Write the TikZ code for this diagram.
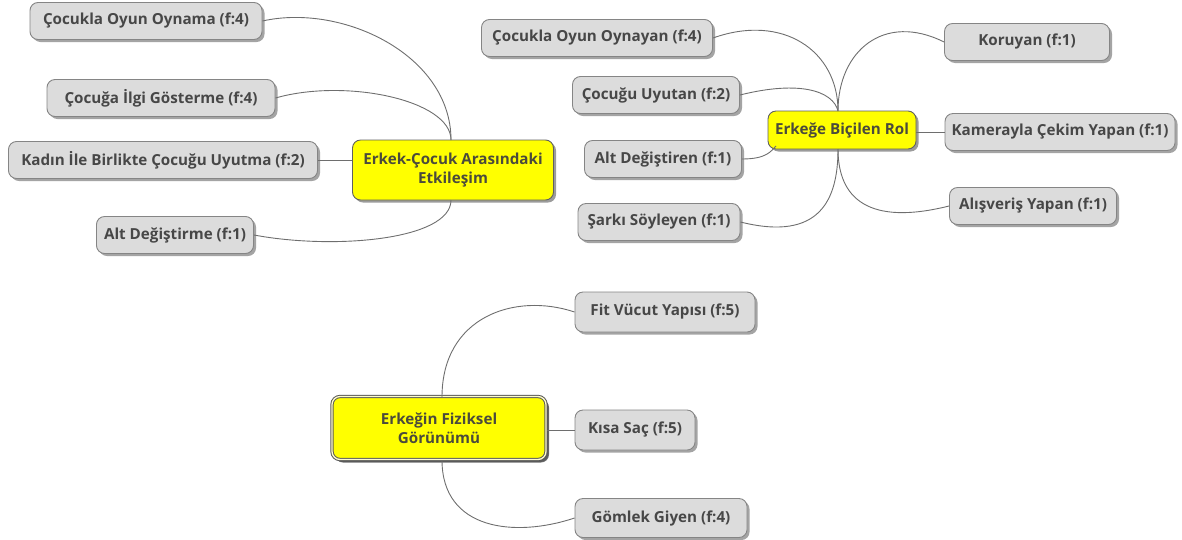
\documentclass[tikz,border=0pt]{standalone}
\usepackage{fontspec}
\setmainfont{Open Sans}
\usetikzlibrary{shadows,calc}
\definecolor{leaffill}{HTML}{DCDCDC}
\definecolor{leafdraw}{HTML}{858585}
\definecolor{txt}{HTML}{474747}
\definecolor{hubtxt}{HTML}{4A4A3C}
\definecolor{wire}{HTML}{6E6E6E}
\definecolor{hub}{HTML}{FFFF00}
\tikzset{
  box/.style={rounded corners=8pt, minimum height=37pt, inner sep=0pt, align=center,
    font=\fontsize{15.2}{19}\selectfont\bfseries, text=txt, line width=0.9pt},
  leaf/.style={box, fill=leaffill, draw=leafdraw,
    drop shadow={shadow xshift=2.5pt, shadow yshift=-2.5pt, fill=gray!70!black, opacity=0.55}},
  hubbox/.style={box, fill=hub, draw=gray!75!black, text=hubtxt,
    drop shadow={shadow xshift=2.5pt, shadow yshift=-2.5pt, fill=gray!70!black, opacity=0.6}},
  wirestyle/.style={draw=wire, line width=0.9pt},
}
\begin{document}
\begin{tikzpicture}[x=1pt,y=-1pt]
\useasboundingbox (0,0) rectangle (1182,539);

% left cluster
\node[hubbox, minimum width=201pt, minimum height=60pt] (e1) at (453,170) {Erkek-Çocuk Arasındaki\\Etkileşim};
\node[leaf, minimum width=232pt] (c1) at (146,21) {Çocukla Oyun Oynama (f:4)};
\node[leaf, minimum width=228pt] (c2) at (161,98) {Çocuğa İlgi Gösterme (f:4)};
\node[leaf, minimum width=309pt] (c3) at (163,160) {Kadın İle Birlikte Çocuğu Uyutma (f:2)};
\node[leaf, minimum width=157pt] (c4) at (175,235) {Alt Değiştirme (f:1)};
\coordinate (e1t) at (451,140);
\coordinate (e1b) at (451,200);

% right cluster
\node[hubbox, minimum width=148pt, minimum height=38pt] (e2) at (842,130) {Erkeğe Biçilen Rol};
\node[leaf, minimum width=231pt] (r1) at (597,38) {Çocukla Oyun Oynayan (f:4)};
\node[leaf, minimum width=167pt] (r2) at (656,95) {Çocuğu Uyutan (f:2)};
\node[leaf, minimum width=157pt] (r3) at (663,159) {Alt Değiştiren (f:1)};
\node[leaf, minimum width=162pt] (r4) at (659,222) {Şarkı Söyleyen (f:1)};
\node[leaf, minimum width=165pt] (k1) at (1027,42) {Koruyan (f:1)};
\node[leaf, minimum width=230pt] (k2) at (1060,132) {Kamerayla Çekim Yapan (f:1)};
\node[leaf, minimum width=167pt] (k3) at (1033,206) {Alışveriş Yapan (f:1)};
\coordinate (e2t) at (838,111);
\coordinate (e2b) at (838,149);
\coordinate (e2c) at (776,146);

% bottom cluster
\node[hubbox, minimum width=214pt, minimum height=63pt, line width=1pt, draw=black!65,
  double=white!80!yellow, double distance=1.3pt,
  drop shadow={shadow xshift=3pt, shadow yshift=-3pt, fill=black!75, opacity=0.7}] (e3) at (439,428) {Erkeğin Fiziksel\\Görünümü};
\node[leaf, minimum width=180pt, minimum height=40pt] (b1) at (665,312) {Fit Vücut Yapısı (f:5)};
\node[leaf, minimum width=120pt, minimum height=40pt] (b2) at (635,430) {Kısa Saç (f:5)};
\node[leaf, minimum width=172pt, minimum height=39pt] (b3) at (661,518) {Gömlek Giyen (f:4)};
\coordinate (e3t) at (442,397);
\coordinate (e3b) at (442,460);

% connectors
\draw[wirestyle] (c1.east) .. controls +(80,-18) and +(0,-85) .. (e1t);
\draw[wirestyle] (c2.east) .. controls +(70,-20) and +(0,-40) .. (e1t);
\draw[wirestyle] (c3.east) -- (c3.east -| e1.west);
\draw[wirestyle] (c4.east) .. controls +(80,15) and +(0,40) .. (e1b);

\draw[wirestyle] (r1.east) .. controls +(70,-25) and +(0,-60) .. (e2t);
\draw[wirestyle] (r2.east) .. controls +(60,-15) and +(-5,-20) .. (e2t);
\draw[wirestyle] (r3.east) .. controls +(25,0) and +(-5,5) .. (e2c);
\draw[wirestyle] (r4.east) .. controls +(80,20) and +(0,50) .. (e2b);
\draw[wirestyle] (k1.west) .. controls +(-60,-30) and +(0,-60) .. (e2t);
\draw[wirestyle] (k2.west) -- (k2.west -| e2.east);
\draw[wirestyle] (k3.west) .. controls +(-80,20) and +(0,50) .. (e2b);

\draw[wirestyle] (b1.west) .. controls +(-60,-20) and +(0,-80) .. (e3t);
\draw[wirestyle] (b2.west) -- (b2.west -| e3.east);
\draw[wirestyle] (b3.west) .. controls +(-60,20) and +(0,70) .. (e3b);
\end{tikzpicture}
\end{document}
